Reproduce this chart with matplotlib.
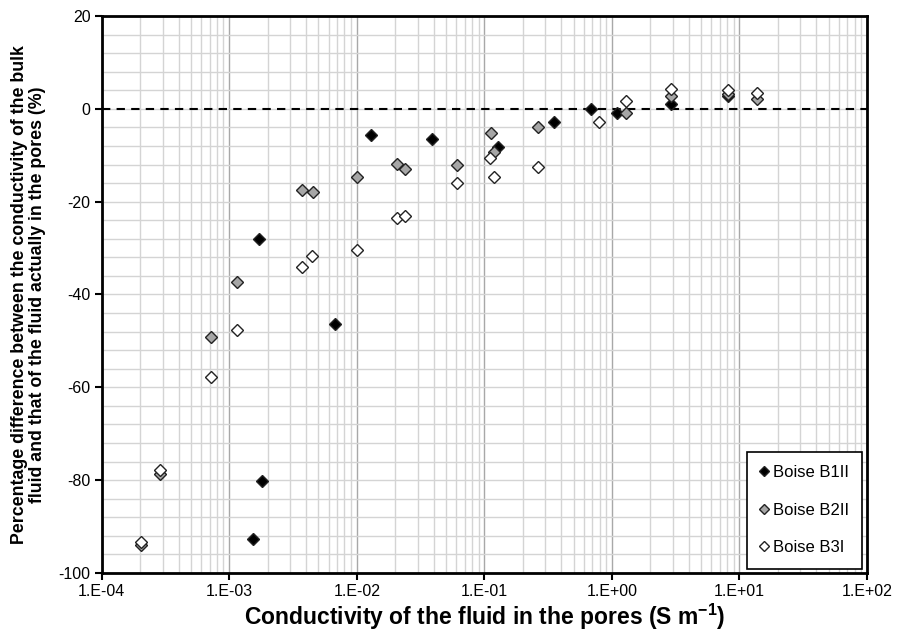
import math

import matplotlib
matplotlib.use("Agg")
import matplotlib.pyplot as plt
from matplotlib.ticker import LogLocator, MultipleLocator, NullFormatter, FuncFormatter

plt.rcParams["font.family"] = ["Liberation Sans", "DejaVu Sans"]
plt.rcParams["axes.unicode_minus"] = False

# Boise sandstone samples: pore-fluid conductivity (S/m) vs % difference
b1_x = [1.53e-3, 1.82e-3, 1.70e-3, 6.78e-3, 1.29e-2, 3.89e-2, 0.127, 0.351, 0.686, 1.09, 2.89, 8.09]
b1_y = [-92.7, -80.2, -28.0, -46.3, -5.6, -6.6, -8.2, -2.9, 0.0, -1.0, 1.1, 2.7]

b2_x = [2.03e-4, 2.88e-4, 7.2e-4, 1.16e-3, 3.70e-3, 4.51e-3, 1.0e-2, 2.06e-2, 2.38e-2,
        6.07e-2, 0.113, 0.119, 0.265, 1.29, 2.89, 8.09, 13.6]
b2_y = [-94.0, -78.7, -49.1, -37.2, -17.5, -17.9, -14.6, -11.8, -13.0,
        -12.1, -5.2, -9.4, -4.0, -0.8, 2.7, 3.2, 2.2]

b3_x = [2.03e-4, 2.88e-4, 7.2e-4, 1.16e-3, 3.70e-3, 4.48e-3, 1.0e-2, 2.06e-2, 2.38e-2,
        6.07e-2, 0.111, 0.119, 0.265, 0.792, 1.29, 2.89, 8.09, 13.6]
b3_y = [-93.3, -77.8, -57.7, -47.7, -34.1, -31.7, -30.5, -23.6, -23.1,
        -15.9, -10.5, -14.6, -12.5, -2.9, 1.7, 4.3, 4.1, 3.5]

series = [("Boise B1II", b1_x, b1_y, "black"),
          ("Boise B2II", b2_x, b2_y, "#a6a6a6"),
          ("Boise B3I", b3_x, b3_y, "white")]

fig = plt.figure(figsize=(8.97, 6.36), dpi=100)
ax = fig.add_axes([0.1134, 0.0991, 0.8532, 0.8757])

ax.set_xscale("log")
ax.set_xlim(1e-4, 1e2)
ax.set_ylim(-100, 20)

# grid: decades darker, sub-decades and 4-unit steps lighter
ax.xaxis.set_major_locator(LogLocator(base=10, numticks=10))
ax.xaxis.set_minor_locator(LogLocator(base=10, subs=range(2, 10), numticks=100))
ax.xaxis.set_minor_formatter(NullFormatter())
ax.xaxis.set_major_formatter(FuncFormatter(lambda v, p: "1.E%+03d" % round(math.log10(v))))
ax.yaxis.set_major_locator(MultipleLocator(20))
ax.yaxis.set_minor_locator(MultipleLocator(4))
ax.grid(True, which="major", axis="x", color="#a8a8a8", lw=1.0)
ax.grid(True, which="minor", axis="x", color="#d4d4d4", lw=1.0)
ax.grid(True, which="both", axis="y", color="#d4d4d4", lw=1.0)
ax.set_axisbelow(True)

ax.tick_params(which="major", direction="out", length=5, width=1.5, labelsize=11.5,
               color="black", pad=3)
ax.tick_params(which="minor", length=0)
for s in ax.spines.values():
    s.set_linewidth(2)
    s.set_color("black")

ax.axhline(0, color="black", lw=1.5, ls=(0, (4, 3)), zorder=2)

for label, xs, ys, fc in series:
    ax.plot(xs, ys, ls="none", marker="D", ms=6.5, mfc=fc, mec="#222222", mew=1.0,
            label=label, zorder=3)

leg = ax.legend(loc="lower right", bbox_to_anchor=(0.9935, 0.008), fontsize=12,
                frameon=True, fancybox=False, edgecolor="black", framealpha=1,
                handlelength=0.5, handletextpad=0.25, labelspacing=1.35,
                borderpad=0.8, borderaxespad=0, markerscale=0.8)
leg.get_frame().set_linewidth(1.2)

ax.set_xlabel("Conductivity of the fluid in the pores (S m$^{\\mathregular{-1}}$)",
              fontsize=16.5, fontweight="bold", labelpad=2)
ax.set_ylabel("Percentage difference between the conductivity of the bulk\n"
              "fluid and that of the fluid actually in the pores (%)",
              fontsize=12.8, fontweight="bold", linespacing=1.05)
ax.yaxis.set_label_coords(-0.073, 0.5)

fig.savefig("out.png", dpi=100)
